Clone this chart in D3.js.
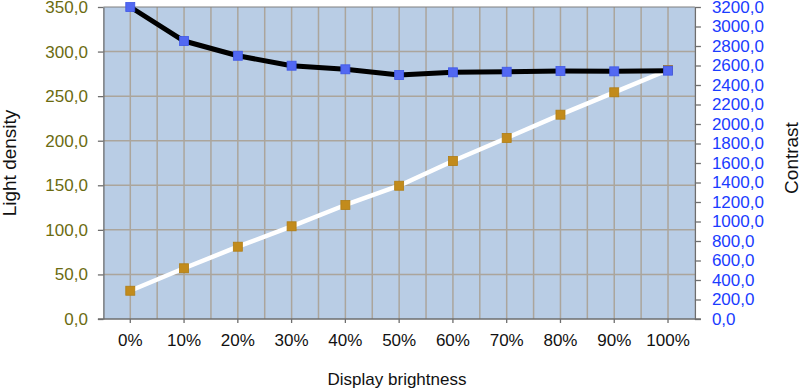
<!DOCTYPE html>
<html>
<head>
<meta charset="utf-8">
<script src="https://cdn.jsdelivr.net/npm/d3@7"></script>
<style>
  html, body { margin: 0; padding: 0; background: #ffffff; }
  svg { display: block; font-family: "Liberation Sans", Arial, Helvetica, sans-serif; }
</style>
</head>
<body>
<svg id="chart" width="800" height="390"></svg>
<script>
// ---- data ----
const categories = ["0%", "10%", "20%", "30%", "40%", "50%", "60%", "70%", "80%", "90%", "100%"];
const lightDensity = [31.7, 56.9, 81.1, 104.0, 127.9, 149.5, 177.2, 203.1, 229.2, 254.3, 279.3];
const contrast = [3200, 2851, 2700, 2598, 2561, 2502, 2530, 2536, 2543, 2540, 2547];
const leftTicks = [0, 50, 100, 150, 200, 250, 300, 350];
const rightTicks = [0, 200, 400, 600, 800, 1000, 1200, 1400, 1600, 1800, 2000, 2200, 2400, 2600, 2800, 3000, 3200];
const leftTitle = "Light density";
const rightTitle = "Contrast";
const bottomTitle = "Display brightness";

// ---- layout ----
const plot = { left: 103.4, right: 694.9, top: 7, bottom: 319 };
const svg = d3.select("#chart");

const x = d3.scaleBand().domain(categories).range([plot.left, plot.right]).padding(0);
const cx = c => x(c) + x.bandwidth() / 2;
const yL = d3.scaleLinear().domain([0, 350]).range([plot.bottom, plot.top]);
const yR = d3.scaleLinear().domain([0, 3200]).range([plot.bottom, plot.top]);
const fmt = v => d3.format(".1f")(v).replace(".", ",");

// background
svg.append("rect")
  .attr("x", plot.left).attr("y", plot.top)
  .attr("width", plot.right - plot.left).attr("height", plot.bottom - plot.top)
  .attr("fill", "#b9cde5");

// grid
const grid = svg.append("g").attr("stroke", "#aba59c").attr("stroke-width", 1.5);
const vlines = [];
categories.forEach((c, i) => {
  if (i > 0) vlines.push(x(c));
  vlines.push(cx(c));
});
grid.selectAll("line.v").data(vlines).join("line")
  .attr("x1", d => d).attr("x2", d => d)
  .attr("y1", plot.top).attr("y2", plot.bottom);
grid.selectAll("line.h").data(leftTicks.filter(t => t > 0 && t < 350)).join("line")
  .attr("x1", plot.left).attr("x2", plot.right)
  .attr("y1", d => yL(d)).attr("y2", d => yL(d));

// top border
svg.append("line")
  .attr("x1", plot.left).attr("x2", plot.right)
  .attr("y1", plot.top).attr("y2", plot.top)
  .attr("stroke", "#808080").attr("stroke-width", 1.2);

// axes
function styleAxis(g, color) {
  g.selectAll(".domain").attr("stroke", "#6e6e6e").attr("stroke-width", 1.3);
  g.selectAll(".tick line").attr("stroke", "#6e6e6e").attr("stroke-width", 1.3);
  g.selectAll(".tick text").attr("fill", color).style("font-size", "17px");
}

const axL = svg.append("g")
  .attr("transform", `translate(${plot.left},0)`)
  .call(d3.axisLeft(yL).tickValues(leftTicks).tickFormat(fmt).tickSize(5.5).tickSizeOuter(0).tickPadding(10));
styleAxis(axL, "#6b6b10");

const axR = svg.append("g")
  .attr("transform", `translate(${plot.right},0)`)
  .call(d3.axisRight(yR).tickValues(rightTicks).tickFormat(fmt).tickSize(6).tickSizeOuter(0).tickPadding(11));
styleAxis(axR, "#1a3cff");

const axB = svg.append("g")
  .attr("transform", `translate(0,${plot.bottom})`)
  .call(d3.axisBottom(x).tickSize(4).tickSizeOuter(0).tickPadding(11));
styleAxis(axB, "#111111");
axB.select(".domain").attr("d", `M${plot.left - 5.5},0H${plot.right + 6}`);

// series: light density (left axis)
const lineL = d3.line().x((d, i) => cx(categories[i])).y(d => yL(d));
svg.append("path").datum(lightDensity)
  .attr("d", lineL).attr("fill", "none")
  .attr("stroke", "#ffffff").attr("stroke-width", 4.5).attr("stroke-linejoin", "round");
const sq = 9;
svg.append("g").selectAll("rect").data(lightDensity).join("rect")
  .attr("x", (d, i) => cx(categories[i]) - sq / 2)
  .attr("y", d => yL(d) - sq / 2)
  .attr("width", sq).attr("height", sq)
  .attr("fill", "#c28b1c").attr("stroke", "#b07d14").attr("stroke-width", 0.8);

// series: contrast (right axis)
const lineR = d3.line().x((d, i) => cx(categories[i])).y(d => yR(d));
svg.append("path").datum(contrast)
  .attr("d", lineR).attr("fill", "none")
  .attr("stroke", "#000000").attr("stroke-width", 5).attr("stroke-linejoin", "round");
svg.append("g").selectAll("rect").data(contrast).join("rect")
  .attr("x", (d, i) => cx(categories[i]) - sq / 2)
  .attr("y", d => yR(d) - sq / 2)
  .attr("width", sq).attr("height", sq)
  .attr("fill", "#5268f2").attr("stroke", "#3f58e6").attr("stroke-width", 0.8);

// titles
svg.append("text")
  .attr("transform", `translate(16,${(plot.top + plot.bottom) / 2}) rotate(-90)`)
  .attr("text-anchor", "middle")
  .attr("fill", "#111111").style("font-size", "19px")
  .text(leftTitle);
svg.append("text")
  .attr("transform", `translate(798,${158}) rotate(-90)`)
  .attr("text-anchor", "middle")
  .attr("fill", "#111111").style("font-size", "19px")
  .text(rightTitle);
svg.append("text")
  .attr("x", 397).attr("y", 385)
  .attr("text-anchor", "middle")
  .attr("fill", "#111111").style("font-size", "17px")
  .text(bottomTitle);
</script>
</body>
</html>
